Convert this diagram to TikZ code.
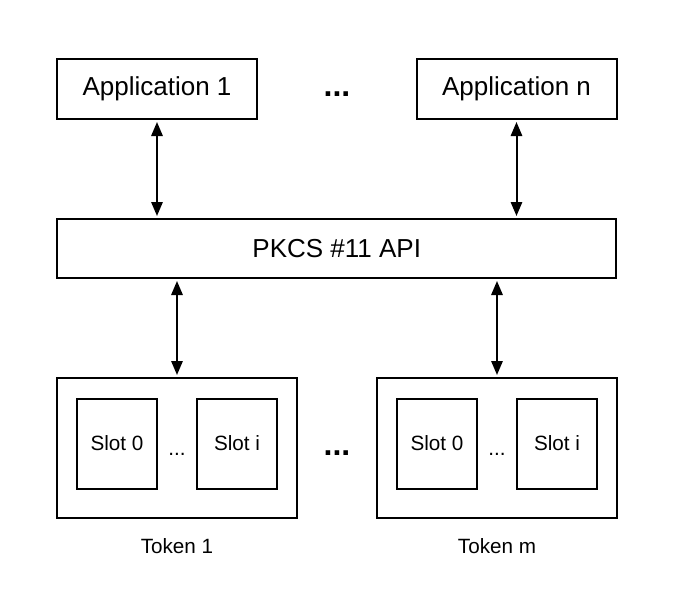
\documentclass[tikz,border=0pt]{standalone}
\usepackage{fontspec}
\setmainfont{Liberation Sans}
\usetikzlibrary{arrows.meta}
\begin{document}
\begin{tikzpicture}[x=0.75pt,y=-0.75pt,
  box/.style={draw=black,line width=1.5pt,fill=white,inner sep=0pt,align=center},
  bigtxt/.style={font=\fontsize{19.5}{23}\selectfont},
  smalltxt/.style={font=\fontsize{15.5}{19}\selectfont},
  link/.style={line width=1.5pt,{Triangle[length=10.5pt,width=8.5pt]}-{Triangle[length=10.5pt,width=8.5pt]},shorten <=1.5pt,shorten >=1.5pt},
  dots/.style={inner sep=0pt,anchor=base,font=\fontsize{24}{28}\selectfont\bfseries}
]
\useasboundingbox (0,0) rectangle (675,601);
\fill[white] (0,0) rectangle (675,601);

\node[box,bigtxt,minimum width=150pt,minimum height=45pt] (a1) at (157,89) {Application 1};
\node[box,bigtxt,minimum width=150pt,minimum height=45pt] (an) at (516.5,89) {Application n};
\node[dots] (topdots) at (337,96) {...};

\node[box,bigtxt,minimum width=419.25pt,minimum height=44.25pt] (api) at (336.75,248.5) {PKCS \#11 API};

\node[box,minimum width=180pt,minimum height=105pt] (t1) at (177,448) {};
\node[box,minimum width=180pt,minimum height=105pt] (tm) at (497,448) {};

\node[box,smalltxt,minimum width=60pt,minimum height=67.5pt] (t1s0) at (117,443.5) {Slot 0};
\node[box,smalltxt,minimum width=60pt,minimum height=67.5pt] (t1si) at (237,443.5) {Slot i};
\node[box,smalltxt,minimum width=60pt,minimum height=67.5pt] (tms0) at (437,443.5) {Slot 0};
\node[box,smalltxt,minimum width=60pt,minimum height=67.5pt] (tmsi) at (557,443.5) {Slot i};

\node[inner sep=0pt,anchor=base,smalltxt] (t1dots) at (177,455) {...};
\node[inner sep=0pt,anchor=base,smalltxt] (tmdots) at (497,455) {...};
\node[dots] (middots) at (337,455) {...};

\node[smalltxt,inner sep=0pt] (t1lab) at (177,546) {Token 1};
\node[smalltxt,inner sep=0pt] (tmlab) at (497,546) {Token m};

\draw[link] (a1.south) -- (a1.south |- api.north);
\draw[link] (an.south) -- (an.south |- api.north);
\draw[link] (api.south -| t1.north) -- (t1.north);
\draw[link] (api.south -| tm.north) -- (tm.north);
\end{tikzpicture}
\end{document}
